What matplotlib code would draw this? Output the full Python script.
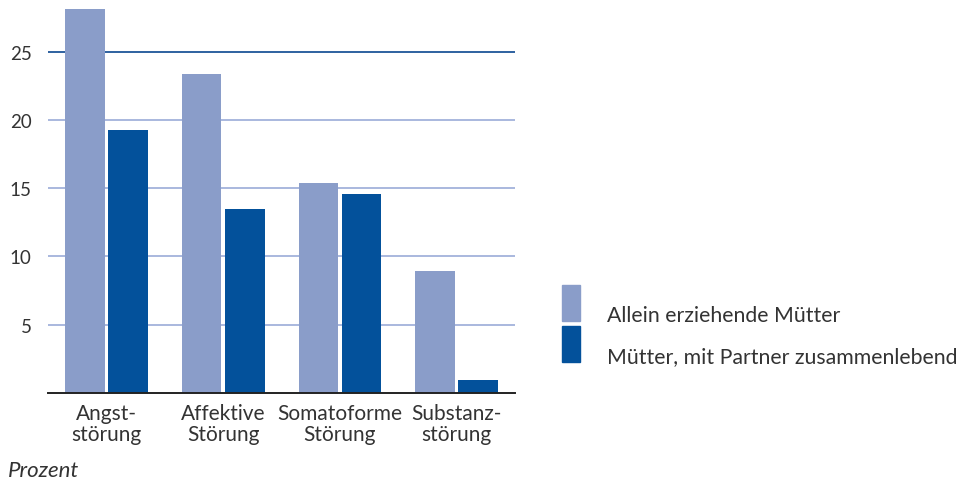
import matplotlib.pyplot as plt
from matplotlib.patches import Rectangle
import numpy as np

categories = ["Angst-\nstörung", "Affektive\nStörung", "Somatoforme\nStörung", "Substanz-\nstörung"]
allein = [28.1, 23.4, 15.4, 8.9]
partner = [19.3, 13.5, 14.6, 0.95]
series_names = ["Allein erziehende Mütter", "Mütter, mit Partner zusammenlebend"]
yticks = [5, 10, 15, 20, 25]

LIGHT = "#8a9dc9"
DARK = "#03519b"
TEXT = "#333333"

plt.rcParams['font.family'] = ['Lato', 'DejaVu Sans']


def main():
    fig = plt.figure(figsize=(9.71, 4.81), dpi=100)
    ax = fig.add_axes([0.0497, 0.1809, 0.4806, 0.8191])

    x = np.arange(len(categories))
    w = 0.338
    off = 0.185
    ax.bar(x - off, allein, w, color=LIGHT, zorder=3)
    ax.bar(x + off, partner, w, color=DARK, zorder=3)

    for t in yticks:
        col = "#2e61a0" if t == 25 else "#a9b8de"
        ax.axhline(t, color=col, lw=1.4, zorder=1)

    ax.set_xlim(-0.5, 3.5)
    ax.set_ylim(0, 28.86)
    ax.set_yticks(yticks)
    ax.set_yticklabels([str(t) for t in yticks], fontsize=13.5, color=TEXT)
    ax.set_xticks(x)
    ax.set_xticklabels(categories, fontsize=15, color=TEXT, linespacing=1.1)
    ax.tick_params(axis='both', length=0)
    ax.tick_params(axis='y', pad=12)
    ax.tick_params(axis='x', pad=7)

    for s in ['top', 'right', 'left']:
        ax.spines[s].set_visible(False)
    ax.spines['bottom'].set_color("#222222")
    ax.spines['bottom'].set_linewidth(1.4)
    ax.spines['bottom'].set_zorder(4)

    fig.text(8 / 971, 1 - 471 / 481, "Prozent", fontsize=16, style='italic',
             color=TEXT, va='center', ha='left')

    # legend drawn by hand
    colors = [LIGHT, DARK]
    for i, name in enumerate(series_names):
        top = 286 + i * 41
        fig.patches.append(Rectangle((562 / 971, 1 - (top + 36) / 481), 18 / 971, 36 / 481,
                                     transform=fig.transFigure, color=colors[i]))
        fig.text(607 / 971, 1 - (top + 30) / 481, name, fontsize=15.3, color=TEXT,
                 va='center', ha='left')

    fig.savefig("out.png", dpi=100)


if __name__ == "__main__":
    main()
